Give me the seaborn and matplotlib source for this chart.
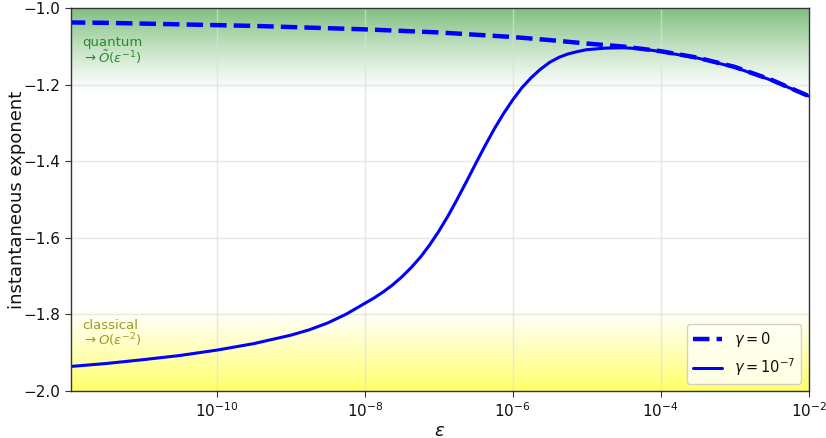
import matplotlib
matplotlib.use("Agg")
import matplotlib.pyplot as plt
from matplotlib.ticker import NullLocator
import seaborn as sns
import numpy as np
import pandas as pd

sns.set_style("whitegrid")
plt.rcParams['font.family'] = ['DejaVu Sans']
plt.rcParams['text.color'] = '#111111'
plt.rcParams['axes.labelcolor'] = '#111111'
plt.rcParams['xtick.color'] = '#111111'
plt.rcParams['ytick.color'] = '#111111'

# values (log10 of epsilon -> exponent)
# gamma = 0 (dashed)
log_eps_q = [-12.0, -11.5, -11.0, -10.5, -10.0, -9.5, -9.0, -8.5, -8.0, -7.5,
             -7.0, -6.5, -6.0, -5.5, -5.0, -4.5, -4.0, -3.5, -3.0, -2.5, -2.0]
exp_gamma0 = [-1.038, -1.039, -1.041, -1.043, -1.045, -1.047, -1.050, -1.053,
              -1.056, -1.060, -1.064, -1.070, -1.076, -1.084, -1.093, -1.101,
              -1.113, -1.130, -1.154, -1.188, -1.230]

# gamma = 1e-7 (solid)
log_eps_s = [-12.0, -11.5, -11.0, -10.5, -10.0, -9.5, -9.0, -8.75, -8.5,
             -8.25, -8.0, -7.875, -7.75, -7.625, -7.5, -7.375, -7.25, -7.125,
             -7.0, -6.875, -6.75, -6.625, -6.5, -6.375, -6.25, -6.125, -6.0,
             -5.875, -5.75, -5.625, -5.5, -5.375, -5.25, -5.125, -5.0,
             -4.75, -4.5, -4.25, -4.0, -3.5, -3.0, -2.5, -2.0]
exp_gamma7 = [-1.936, -1.928, -1.918, -1.907, -1.893, -1.876, -1.854, -1.840,
              -1.822, -1.799, -1.771, -1.757, -1.741, -1.723, -1.702, -1.678,
              -1.651, -1.619, -1.583, -1.543, -1.499, -1.453, -1.406, -1.360,
              -1.316, -1.276, -1.240, -1.208, -1.182, -1.160, -1.142, -1.129,
              -1.120, -1.114, -1.109, -1.105, -1.104, -1.107, -1.114, -1.131,
              -1.155, -1.189, -1.230]

df_q = pd.DataFrame({'eps': np.power(10.0, log_eps_q), 'exponent': exp_gamma0})
df_s = pd.DataFrame({'eps': np.power(10.0, log_eps_s), 'exponent': exp_gamma7})

fig = plt.figure(figsize=(8.26, 4.38), dpi=100)
ax = fig.add_axes([0.086, 0.107, 0.893, 0.875])

# shaded regimes (fading bands)
n = 60
for i in range(n):
    t = i / n
    y0 = -1.0 - 0.22 * t
    ax.axhspan(y0 - 0.22 / n, y0, color='green', alpha=0.5 * (1 - t) ** 1.2,
               lw=0, zorder=0)
    y1 = -2.0 + 0.22 * t
    ax.axhspan(y1, y1 + 0.22 / n, color='yellow', alpha=0.6 * (1 - t) ** 1.2,
               lw=0, zorder=0)

sns.lineplot(data=df_q, x='eps', y='exponent', ax=ax, color='blue', lw=3.2,
             linestyle='--', label=r'$\gamma = 0$')
sns.lineplot(data=df_s, x='eps', y='exponent', ax=ax, color='blue', lw=2.2,
             label=r'$\gamma = 10^{-7}$')

ax.set_xscale('log')
ax.set_xlim(1.07e-12, 1e-2)
ax.set_ylim(-2.0, -1.0)
ax.set_xticks([1e-10, 1e-8, 1e-6, 1e-4, 1e-2])
ax.xaxis.set_minor_locator(NullLocator())
ax.set_yticks([-2.0, -1.8, -1.6, -1.4, -1.2, -1.0])
ax.tick_params(axis='both', labelsize=11, length=4, left=True, bottom=True,
               color='#333333')
ax.grid(True, color='#dddddd', alpha=0.7, lw=1)

for s in ax.spines.values():
    s.set_color('#333333')
    s.set_linewidth(1)

ax.set_xlabel(r'$\epsilon$', fontsize=13, labelpad=1)
ax.set_ylabel('instantaneous exponent', fontsize=13, labelpad=-2)

ax.text(0.015, 0.888, 'quantum\n' + r'$\rightarrow\tilde{O}(\epsilon^{-1})$',
        transform=ax.transAxes, fontsize=9.5, color='#2a8a2a', va='center',
        linespacing=1.0)
ax.text(0.015, 0.149, 'classical\n' + r'$\rightarrow O(\epsilon^{-2})$',
        transform=ax.transAxes, fontsize=9.5, color='#9a9a22', va='center',
        linespacing=1.0)

ax.legend(loc='lower right', fontsize=10.5, facecolor='#fffff0',
          framealpha=0.9, handlelength=2.0)

fig.savefig('out.png', dpi=100)
